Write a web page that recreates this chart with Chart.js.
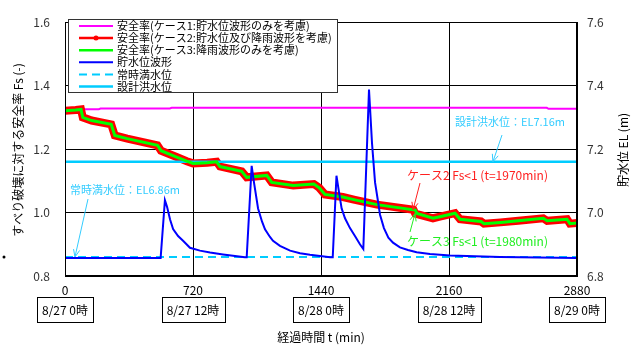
<!DOCTYPE html>
<html>
<head>
<meta charset="utf-8">
<script src="https://cdn.jsdelivr.net/npm/chart.js@4.4.1/dist/chart.umd.min.js"></script>
<style>
html, body { margin: 0; padding: 0; background: #fff; }
</style>
</head>
<body>
<canvas id="grafico" width="636" height="345"></canvas>
<script>
// 安全率 (左軸)
const tCase1 = [0, 190, 200, 590, 600, 2710, 2720, 2880];
const case1Fs = [1.326, 1.326, 1.328, 1.328, 1.330, 1.330, 1.327, 1.327];

const tCase2 = [0, 60, 90, 100, 150, 260, 280, 350, 520, 540, 628, 685, 720, 800, 853, 872, 994, 1022, 1135, 1163, 1284, 1400, 1430, 1462, 1563, 1631, 1755, 1960, 1970, 2070, 2109, 2194, 2222, 2340, 2357, 2450, 2550, 2690, 2712, 2824, 2840, 2880];
const case2Fs = [1.321, 1.323, 1.325, 1.300, 1.290, 1.278, 1.243, 1.233, 1.212, 1.195, 1.175, 1.162, 1.155, 1.157, 1.160, 1.145, 1.130, 1.111, 1.117, 1.095, 1.085, 1.090, 1.078, 1.057, 1.049, 1.040, 1.025, 1.009, 0.997, 0.982, 0.987, 0.998, 0.979, 0.972, 0.965, 0.969, 0.974, 0.982, 0.974, 0.979, 0.965, 0.967];

const tCase3 = [0, 60, 90, 100, 150, 260, 280, 350, 520, 540, 628, 685, 720, 800, 853, 872, 994, 1022, 1135, 1163, 1284, 1400, 1430, 1462, 1563, 1631, 1755, 1970, 1980, 2070, 2109, 2194, 2222, 2340, 2357, 2450, 2550, 2690, 2712, 2824, 2840, 2880];
const case3Fs = [1.321, 1.323, 1.325, 1.300, 1.290, 1.278, 1.243, 1.233, 1.212, 1.195, 1.175, 1.162, 1.155, 1.157, 1.160, 1.145, 1.130, 1.111, 1.117, 1.095, 1.085, 1.090, 1.078, 1.057, 1.049, 1.040, 1.025, 1.008, 0.997, 0.982, 0.987, 0.998, 0.979, 0.972, 0.965, 0.969, 0.974, 0.982, 0.974, 0.979, 0.965, 0.967];

// 貯水位 (右軸)
const tLevel = [0, 538, 562, 574, 591, 608, 636, 664, 703, 759, 816, 889, 1012,
    1022, 1050, 1063, 1086, 1108, 1125, 1153, 1170, 1209, 1266, 1322, 1378, 1491,
    1506, 1527, 1541, 1556, 1575, 1603, 1631, 1659, 1678,
    1710, 1727, 1744, 1761, 1772, 1794, 1819, 1845, 1884, 1929, 1978, 2053, 2166, 2447, 2880];
const levelEL = [6.857, 6.857, 7.039, 7.018, 6.978, 6.948, 6.926, 6.911, 6.889, 6.880, 6.874, 6.868, 6.859,
    6.859, 7.147, 7.095, 7.013, 6.972, 6.947, 6.923, 6.911, 6.895, 6.880, 6.872, 6.867, 6.859,
    6.859, 7.116, 7.065, 7.013, 6.982, 6.951, 6.926, 6.900, 6.885,
    7.388, 7.218, 7.095, 7.034, 6.993, 6.951, 6.921, 6.905, 6.890, 6.882, 6.875, 6.869, 6.865, 6.860, 6.857];

const normalLevel = 6.86;   // 常時満水位
const designLevel = 7.16;   // 設計洪水位

// 軸
const xTicks = [0, 720, 1440, 2160, 2880];
const dateLabels = ['8/27 0時', '8/27 12時', '8/28 0時', '8/28 12時', '8/29 0時'];
const fsTicks = [0.8, 1.0, 1.2, 1.4, 1.6];
const elTicks = [6.8, 7.0, 7.2, 7.4, 7.6];

const FONT = '"Noto Sans CJK JP", "Noto Sans", sans-serif';
const pts = (xs, ys) => xs.map((x, i) => ({ x: x, y: ys[i] }));

const datasets = [
    { label: '安全率(ケース1:貯水位波形のみを考慮)', data: pts(tCase1, case1Fs), yAxisID: 'y',
      borderColor: '#FF00FF', borderWidth: 2, order: 5 },
    { label: '安全率(ケース2:貯水位及び降雨波形を考慮)', data: pts(tCase2, case2Fs), yAxisID: 'y',
      borderColor: '#FF0000', borderWidth: 8, order: 4, marker: true },
    { label: '安全率(ケース3:降雨波形のみを考慮)', data: pts(tCase3, case3Fs), yAxisID: 'y',
      borderColor: '#00FF00', borderWidth: 3, order: 1 },
    { label: '貯水位波形', data: pts(tLevel, levelEL), yAxisID: 'y2',
      borderColor: '#0000FF', borderWidth: 2, order: 0 },
    { label: '常時満水位', data: pts([0, 2880], [normalLevel, normalLevel]), yAxisID: 'y2',
      borderColor: '#00CCFF', borderWidth: 2, borderDash: [8, 5], order: 3 },
    { label: '設計洪水位', data: pts([0, 2880], [designLevel, designLevel]), yAxisID: 'y2',
      borderColor: '#00CCFF', borderWidth: 2.5, order: 2 }
];
datasets.forEach(d => { d.pointRadius = 0; d.fill = false; d.tension = 0; });

function arrow(ctx, x1, y1, x2, y2, color) {
    ctx.strokeStyle = color;
    ctx.lineWidth = 1;
    ctx.beginPath();
    ctx.moveTo(x1, y1);
    ctx.lineTo(x2, y2);
    const ang = Math.atan2(y2 - y1, x2 - x1);
    const L = 8;
    ctx.moveTo(x2 - L * Math.cos(ang - 0.4), y2 - L * Math.sin(ang - 0.4));
    ctx.lineTo(x2, y2);
    ctx.lineTo(x2 - L * Math.cos(ang + 0.4), y2 - L * Math.sin(ang + 0.4));
    ctx.stroke();
}

const decoracao = {
    id: 'decoracao',
    afterDraw(chart) {
        const ctx = chart.ctx, a = chart.chartArea;
        const sx = chart.scales.x, sy = chart.scales.y, sy2 = chart.scales.y2;
        ctx.save();

        // 外枠
        ctx.strokeStyle = '#000';
        ctx.lineWidth = 1;
        ctx.strokeRect(Math.round(a.left) + 0.5, Math.round(a.top) + 0.5, Math.round(a.right - a.left) - 1, Math.round(a.bottom - a.top) - 1);

        // 日付の枠
        ctx.font = '12px ' + FONT;
        ctx.textAlign = 'center';
        ctx.textBaseline = 'middle';
        xTicks.forEach((t, i) => {
            const cx = sx.getPixelForValue(t);
            const w = ctx.measureText(dateLabels[i]).width + 10;
            ctx.fillStyle = '#fff';
            ctx.fillRect(Math.round(cx - w / 2) + 0.5, 297.5, Math.round(w), 25);
            ctx.strokeStyle = '#000';
            ctx.strokeRect(Math.round(cx - w / 2) + 0.5, 297.5, Math.round(w), 25);
            ctx.fillStyle = '#000';
            ctx.fillText(dateLabels[i], cx, 310);
        });

        // 軸タイトル
        ctx.fillStyle = '#000';
        ctx.fillText('経過時間 t (min)', (a.left + a.right) / 2, 337);
        ctx.save();
        ctx.translate(18, 150);
        ctx.rotate(-Math.PI / 2);
        ctx.fillText('すべり破壊に対する安全率 Fs (-)', 0, 0);
        ctx.restore();
        ctx.save();
        ctx.translate(623, 150);
        ctx.rotate(-Math.PI / 2);
        ctx.fillText('貯水位 EL (m)', 0, 0);
        ctx.restore();
        ctx.beginPath();
        ctx.arc(4, 257, 1.5, 0, Math.PI * 2);
        ctx.fill();

        // 注記
        ctx.textAlign = 'left';
        ctx.font = '11px ' + FONT;
        ctx.fillStyle = '#33CCFF';
        ctx.fillText('設計洪水位：EL7.16m', 455, 122);
        arrow(ctx, 502, 135, sx.getPixelForValue(2407), sy2.getPixelForValue(designLevel), '#33CCFF');
        ctx.fillText('常時満水位：EL6.86m', 70, 190);
        arrow(ctx, 88, 199, sx.getPixelForValue(56), sy2.getPixelForValue(normalLevel), '#33CCFF');

        ctx.font = '12px ' + FONT;
        ctx.fillStyle = '#FF2020';
        ctx.fillText('ケース2 Fs<1 (t=1970min)', 407, 175);
        arrow(ctx, 420, 183, sx.getPixelForValue(1958), sy.getPixelForValue(1.009), '#FF2020');
        ctx.fillStyle = '#22EE22';
        ctx.fillText('ケース3 Fs<1 (t=1980min)', 407, 241);
        arrow(ctx, 410, 232, sx.getPixelForValue(1969), sy.getPixelForValue(0.997), '#22EE22');

        // 凡例
        const lx = 68, ly = 19, lw = 269, lh = 73;
        ctx.fillStyle = '#fff';
        ctx.fillRect(lx + 0.5, ly + 0.5, lw, lh);
        ctx.strokeStyle = '#333';
        ctx.lineWidth = 1;
        ctx.strokeRect(lx + 0.5, ly + 0.5, lw, lh);
        ctx.font = '11px ' + FONT;
        chart.data.datasets.forEach((d, i) => {
            const yy = ly + 7 + i * 12.1;
            ctx.strokeStyle = d.borderColor;
            ctx.lineWidth = d.borderWidth > 2.5 ? 2.5 : d.borderWidth;
            ctx.setLineDash(d.borderDash || []);
            ctx.beginPath();
            ctx.moveTo(79, yy);
            ctx.lineTo(113, yy);
            ctx.stroke();
            ctx.setLineDash([]);
            if (d.marker) {
                ctx.fillStyle = d.borderColor;
                ctx.beginPath();
                ctx.arc(96, yy, 2.5, 0, Math.PI * 2);
                ctx.fill();
            }
            ctx.fillStyle = '#000';
            ctx.fillText(d.label, 117, yy);
        });
        ctx.restore();
    }
};

const ctxGrafico = document.getElementById('grafico').getContext('2d');
const grafico = new Chart(ctxGrafico, {
    type: 'line',
    data: { datasets: datasets },
    options: {
        responsive: false,
        animation: false,
        layout: { padding: { top: 16, left: 0, right: 0, bottom: 0 } },
        plugins: { legend: { display: false }, tooltip: { enabled: false } },
        scales: {
            x: {
                type: 'linear', min: 0, max: 2880,
                afterBuildTicks: s => { s.ticks = xTicks.map(v => ({ value: v })); },
                afterFit: s => { s.height = 69; },
                ticks: { color: '#000', font: { family: FONT, size: 12 }, padding: 7, maxRotation: 0, callback: v => String(v) },
                grid: { color: '#000', lineWidth: 1, drawTicks: false },
                border: { color: '#000' }
            },
            y: {
                position: 'left', min: 0.8, max: 1.6,
                afterBuildTicks: s => { s.ticks = fsTicks.map(v => ({ value: v })); },
                afterFit: s => { s.width = 65; },
                ticks: { color: '#333', font: { family: FONT, size: 12 }, padding: 15, callback: v => v.toFixed(1) },
                grid: { color: '#000', lineWidth: 1, drawTicks: false },
                border: { color: '#000' }
            },
            y2: {
                position: 'right', min: 6.8, max: 7.6,
                afterBuildTicks: s => { s.ticks = elTicks.map(v => ({ value: v })); },
                afterFit: s => { s.width = 59; },
                ticks: { color: '#333', font: { family: FONT, size: 12 }, padding: 10, callback: v => v.toFixed(1) },
                grid: { display: false, drawTicks: false },
                border: { color: '#000' }
            }
        }
    },
    plugins: [decoracao]
});
</script>
</body>
</html>
